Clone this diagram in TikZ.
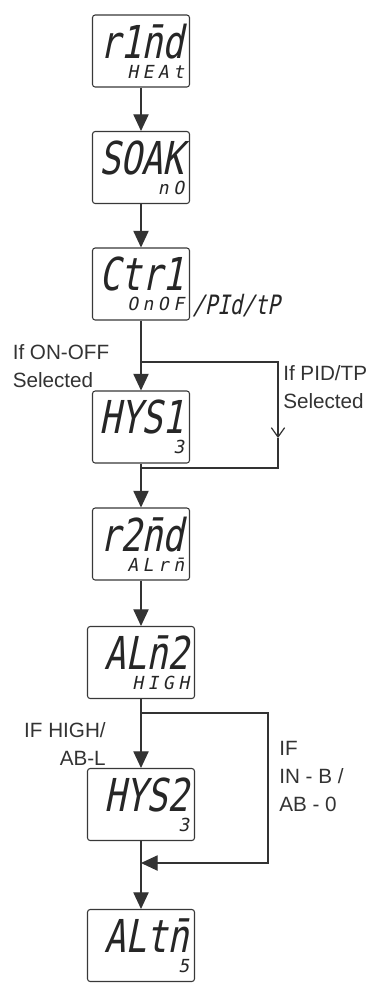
\documentclass[tikz,border=0pt]{standalone}
\usepackage{fontspec}
\setmainfont{Liberation Sans}
\newfontfamily\segfont{DejaVu Sans Mono}[FakeSlant=0.2,FakeStretch=0.78]
\newfontfamily\seglowfont{DejaVu Sans Mono}[FakeSlant=0.2,LetterSpace=25]
\usetikzlibrary{positioning, arrows.meta}

\newcommand{\segtop}{\fontsize{34}{30}\segfont}
\newcommand{\seglow}{\fontsize{13.5}{17}\seglowfont}

\tikzset{
  disp/.style={draw=black!78, fill=white, rounded corners=2pt, line width=0.8pt,
    minimum width=72.75pt, minimum height=54pt, inner xsep=4pt, inner ysep=2pt,
    text width=64.75pt, align=right, text=black!85},
  dispwide/.style={disp, minimum width=80.25pt, text width=72.25pt},
  flow/.style={line width=0.9pt, draw=black!80, -{Triangle[length=12.5pt,width=11.5pt]}},
  line/.style={line width=0.9pt, draw=black!80},
  cond/.style={text=black!80, font=\fontsize{15.5}{21}\selectfont},
}

\begin{document}
\begin{tikzpicture}[x=0.75pt, y=-0.75pt]
\useasboundingbox (0,0) rectangle (383,990);

\node[disp] (1) at (141,51) {\segtop r1\={n}d\\[3pt]\seglow HEAt};
\node[disp] (2) at (141,167.5) {\segtop SOAK\\[3pt]\seglow nO};
\node[disp] (3) at (141,284) {\segtop Ctr1\\[3pt]\seglow OnOF};
\node[anchor=base west, inner sep=0pt, text=black!85, font=\fontsize{20}{24}\segfont] (3x) at (192,314) {/PId/tP};
\node[disp] (4) at (141,427) {\segtop HYS1\\[3pt]\seglow 3};
\node[disp] (5) at (141,544) {\segtop r2\={n}d\\[3pt]\seglow ALr\={n}};
\node[dispwide] (6) at (141,662.5) {\segtop AL\={n}2\\[3pt]\seglow HIGH};
\node[dispwide] (7) at (141,804.5) {\segtop HYS2\\[3pt]\seglow 3};
\node[dispwide] (8) at (141,945.5) {\segtop ALt\={n}\\[3pt]\seglow 5};

\coordinate (s1) at (141,362);
\coordinate (t1) at (278,362);
\coordinate (v1) at (278,438);
\coordinate (j1) at (141,468);
\coordinate (s2) at (141,713);
\coordinate (t2) at (268,713);
\coordinate (j2) at (141,863);

\draw[flow] (1) -- (2);
\draw[flow] (2) -- (3);
\draw[flow] (3) -- (4);
\draw[line, -{Straight Barb[length=7pt,width=10pt]}] (s1) -- (t1) -- (v1);
\draw[line] (v1) |- (j1);
\draw[flow] (4) -- (5);
\draw[flow] (5) -- (6);
\draw[flow] (6) -- (7);
\draw[flow] (s2) -- (t2) |- (j2);
\draw[flow] (7) -- (8);

\node[cond, align=left, anchor=base west, inner sep=0pt] (l1) at (12.5,387) {If ON-OFF\\Selected};
\node[cond, align=left, anchor=base west, inner sep=0pt] (l2) at (283,408) {If PID/TP\\Selected};
\node[cond, align=right, anchor=base east, inner sep=0pt] (l3) at (106,765) {IF HIGH/\\AB-L};
\node[cond, align=left, anchor=base west, inner sep=0pt] (l4) at (279,811) {IF\\IN - B /\\AB - 0};

\end{tikzpicture}
\end{document}
